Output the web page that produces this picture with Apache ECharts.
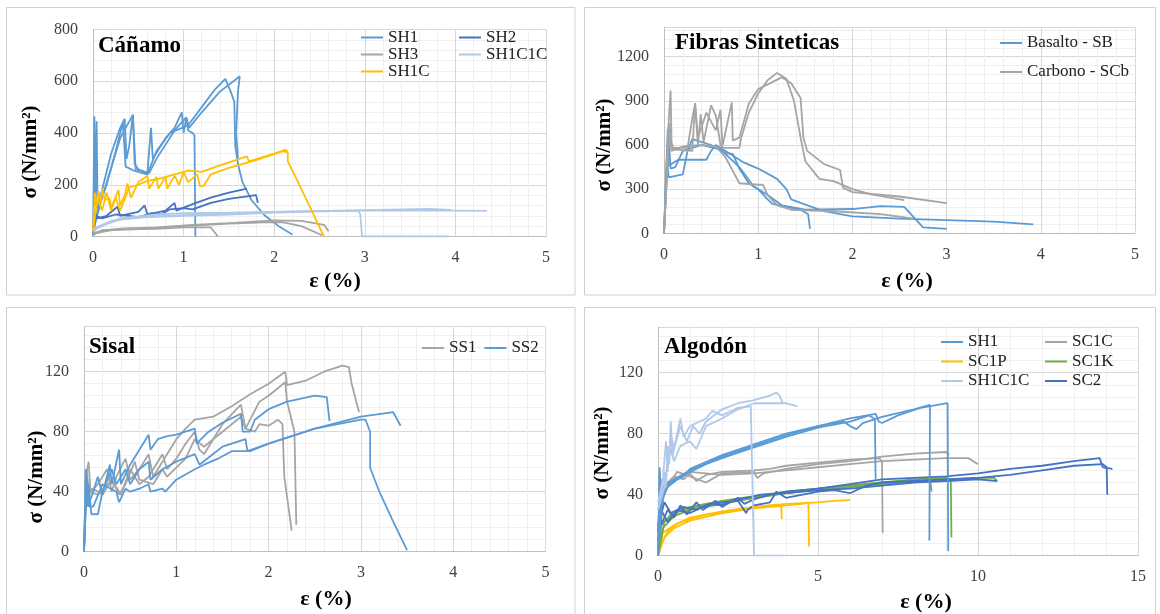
<!DOCTYPE html>
<html>
<head>
<meta charset="utf-8">
<script src="https://cdn.jsdelivr.net/npm/echarts@6/dist/echarts.min.js"></script>
<style>
html,body{margin:0;padding:0;background:#fff;}
#main{width:1160px;height:614px;}
</style>
</head>
<body>
<div id="main"></div>
<script>
// ---- Cáñamo ----
var canSH1a=[[0,0],[0.015,465],[0.025,120],[0.04,445],[0.05,110],[0.1,180],[0.2,320],[0.3,420],[0.35,455],[0.37,300],[0.4,350],[0.44,470],[0.46,280],[0.5,260],[0.6,245],[0.64,420],[0.66,300],[0.8,380],[0.9,420],[0.98,480],[1.0,400],[1.03,460],[1.05,410],[1.1,400],[1.12,390],[1.13,0]];
var canSH1b=[[0,10],[0.05,100],[0.15,200],[0.25,330],[0.33,440],[0.36,270],[0.45,255],[0.6,240],[0.7,330],[0.85,400],[0.95,415],[1.05,430],[1.2,500],[1.35,570],[1.46,609],[1.52,560],[1.56,520],[1.57,350],[1.6,280],[1.65,210],[1.75,140],[1.9,80],[2.05,40],[2.2,8]];
var canSH1c=[[0,20],[0.1,150],[0.3,380],[0.44,470],[0.47,260],[0.62,245],[0.7,300],[0.9,410],[1.03,460],[1.06,420],[1.2,480],[1.4,560],[1.55,600],[1.62,619],[1.6,560],[1.58,400],[1.6,300]];
var canSH2a=[[0,20],[0.02,95],[0.05,70],[0.15,80],[0.27,115],[0.3,80],[0.5,95],[0.57,120],[0.6,85],[0.8,100],[0.9,130],[0.92,100],[1.1,125],[1.3,150],[1.5,170],[1.7,185]];
var canSH2b=[[0,15],[0.03,80],[0.1,70],[0.25,85],[0.4,80],[0.5,75],[0.65,90],[0.75,85],[0.85,105],[1.0,110],[1.1,105],[1.3,130],[1.5,145],[1.7,155],[1.8,160],[1.82,130]];
var canSH3a=[[0,5],[0.1,25],[0.4,30],[0.7,30],[1.0,35],[1.3,35],[1.38,0]];
var canSH3b=[[0,10],[0.2,25],[0.6,30],[1.0,40],[1.5,50],[1.9,55],[2.1,55],[2.3,40],[2.53,5]];
var canSH3c=[[0,15],[0.3,30],[0.7,35],[1.1,45],[1.5,52],[2.0,62],[2.3,60],[2.55,45],[2.6,20]];
var canSH1Ca=[[0,20],[0.02,170],[0.04,120],[0.06,175],[0.09,130],[0.1,185],[0.13,140],[0.18,150],[0.2,110],[0.28,180],[0.3,120],[0.35,160],[0.38,205],[0.42,150],[0.5,210],[0.6,235],[0.62,185],[0.7,230],[0.72,185],[0.8,230],[0.82,185],[0.9,235],[0.95,200],[1.0,250],[1.05,210],[1.15,240],[1.18,195],[1.22,195],[1.3,240],[1.5,265],[1.8,295],[2.1,330],[2.15,325],[2.15,290],[2.25,220],[2.4,110],[2.55,0]];
var canSH1Cb=[[0,20],[0.05,150],[0.1,100],[0.15,170],[0.2,100],[0.25,150],[0.3,100],[0.4,190],[0.5,200],[0.6,215],[0.75,225],[0.9,240],[1.05,255],[1.2,250],[1.4,275],[1.7,310],[1.72,290],[2.0,320],[2.12,335],[2.15,330]];
var canSH1C1Ca=[[0,20],[0.1,45],[0.3,65],[0.6,75],[1.0,80],[1.5,85],[2.0,92],[2.5,97],[2.93,100],[2.95,85],[2.97,0],[3.93,0]];
var canSH1C1Cb=[[0,30],[0.2,60],[0.5,75],[0.8,80],[1.2,85],[2.0,95],[3.0,102],[3.7,107],[3.95,103]];
var canSH1C1Cc=[[0,25],[0.3,70],[0.7,85],[1.0,90],[1.5,92],[2.2,96],[3.0,100],[4.0,100],[4.35,99]];

// ---- Fibras Sinteticas ----
var sinSBa=[[0,0],[0.03,500],[0.05,380],[0.2,400],[0.25,560],[0.3,640],[0.4,620],[0.5,600],[0.65,545],[0.73,540],[0.8,440],[0.9,340],[1.0,300],[1.1,230],[1.15,200],[1.3,180],[1.45,160],[1.53,130],[1.55,30]];
var sinSBb=[[0,0],[0.04,710],[0.05,460],[0.15,500],[0.45,500],[0.5,560],[0.55,600],[0.7,540],[0.85,480],[1.0,440],[1.2,370],[1.3,300],[1.35,230],[1.5,195],[1.7,150],[2.0,115],[2.5,100],[3.0,90],[3.5,80],[3.92,60]];
var sinSBc=[[0,0],[0.05,650],[0.07,440],[0.12,450],[0.2,560],[0.4,600],[0.6,570],[0.8,450],[0.95,320],[1.1,260],[1.25,190],[1.5,160],[2.0,165],[2.3,185],[2.55,180],[2.65,110],[2.75,40],[3.0,30]];
var sinSCba=[[0,0],[0.04,650],[0.07,970],[0.08,620],[0.1,570],[0.3,560],[0.33,885],[0.36,600],[0.39,810],[0.42,620],[0.5,870],[0.55,800],[0.6,600],[0.62,580],[0.8,580],[0.82,650],[0.9,820],[1.0,950],[1.1,1040],[1.2,1090],[1.3,1050],[1.38,900],[1.45,650],[1.5,490],[1.65,370],[1.8,355],[2.0,300],[2.2,265],[2.55,225]];
var sinSCbb=[[0,0],[0.05,640],[0.08,580],[0.25,580],[0.3,780],[0.33,880],[0.36,650],[0.45,820],[0.55,700],[0.6,840],[0.62,590],[0.72,890],[0.73,630],[0.8,650],[0.9,880],[1.0,980],[1.25,1060],[1.35,1020],[1.45,920],[1.48,650],[1.52,560],[1.7,470],[1.87,430],[1.9,310],[2.0,280],[2.5,250],[3.0,205]];
var sinSCbc=[[0,0],[0.06,750],[0.08,560],[0.2,590],[0.4,600],[0.55,590],[0.65,520],[0.75,400],[0.8,340],[1.0,330],[1.05,330],[1.1,260],[1.2,190],[1.35,160],[1.8,150],[2.3,130],[2.65,100]];

// ---- Sisal ----
var sisSS1a=[[0,0],[0.02,50],[0.05,60],[0.07,40],[0.15,45],[0.25,55],[0.3,40],[0.35,50],[0.45,62],[0.5,48],[0.6,55],[0.7,65],[0.75,50],[0.9,65],[1.0,75],[1.1,82],[1.2,88],[1.4,90],[1.6,97],[1.8,105],[2.0,112],[2.18,120],[2.2,111],[2.4,114],[2.6,120],[2.8,124],[2.87,123],[2.9,112],[2.95,100],[2.98,93]];
var sisSS1b=[[0,0],[0.02,40],[0.1,42],[0.2,38],[0.3,48],[0.4,38],[0.5,55],[0.6,45],[0.7,50],[0.85,65],[0.9,55],[1.0,62],[1.1,72],[1.2,80],[1.25,68],[1.3,65],[1.5,85],[1.7,98],[1.75,82],[1.9,100],[2.0,104],[2.18,113],[2.2,100],[2.28,80],[2.3,18]];
var sisSS1c=[[0,0],[0.03,55],[0.05,40],[0.15,38],[0.3,48],[0.38,38],[0.45,45],[0.55,60],[0.6,48],[0.75,45],[0.85,55],[0.9,50],[1.1,62],[1.2,75],[1.3,70],[1.5,80],[1.7,90],[1.75,82],[1.85,80],[1.9,85],[2.0,84],[2.1,88],[2.15,85],[2.17,50],[2.25,14]];
var sisSS2a=[[0,0],[0.02,55],[0.04,30],[0.1,40],[0.15,50],[0.2,38],[0.28,58],[0.3,45],[0.38,68],[0.4,45],[0.5,58],[0.6,68],[0.7,78],[0.72,68],[0.8,75],[0.9,77],[1.0,78],[1.2,82],[1.22,72],[1.35,80],[1.5,86],[1.7,92],[1.72,80],[1.8,80],[1.85,88],[2.0,95],[2.2,100],[2.5,104],[2.63,103],[2.66,87]];
var sisSS2b=[[0,0],[0.02,30],[0.05,45],[0.08,25],[0.15,25],[0.2,40],[0.3,55],[0.35,45],[0.45,55],[0.5,45],[0.6,55],[0.7,60],[0.72,48],[0.85,55],[1.0,60],[1.2,65],[1.25,58],[1.5,70],[1.75,75],[1.77,67],[2.0,72],[2.5,82],[3.0,88],[3.05,88],[3.1,80],[3.1,56],[3.2,40],[3.35,20],[3.5,1]];
var sisSS2c=[[0,0],[0.03,50],[0.06,30],[0.1,30],[0.2,45],[0.35,40],[0.38,33],[0.45,42],[0.5,40],[0.6,42],[0.7,45],[0.72,40],[0.85,42],[0.88,40],[1.0,48],[1.2,55],[1.3,58],[1.45,62],[1.6,67],[1.8,67],[2.0,72],[2.5,82],[3.0,90],[3.35,93],[3.43,84]];

// ---- Algodón ----
var algSH1a=[[0,0],[0.05,58],[0.1,35],[0.3,45],[0.6,50],[1.0,55],[1.5,60],[2,64],[3,71],[4,78],[5,84],[6,88],[6.6,92],[6.75,90],[6.78,88],[6.8,50]];
var algSH1b=[[0,0],[0.1,40],[0.4,48],[0.8,52],[1.0,57],[2,66],[3,73],[4,80],[5,85],[5.8,88],[6.0,85],[6.2,83],[6.4,87],[7,91],[8,96],[8.5,99],[8.48,10]];
var algSH1c=[[0,0],[0.15,45],[0.5,50],[1.0,56],[2,65],[3,72],[4,79],[5,85],[6,90],[6.8,93],[6.9,88],[7.0,87],[7.5,92],[8.2,97],[9.05,100],[9.07,3]];
var algSC1Ca=[[0,0],[0.05,55],[0.1,42],[0.3,48],[0.5,52],[0.8,50],[1,54],[1.2,49],[1.5,53],[2,55],[3,56],[3.5,57],[4,59],[5,61],[6,63],[6.9,64],[7.0,62],[7.02,15]];
var algSC1Cb=[[0,0],[0.1,50],[0.3,45],[0.6,55],[1,52],[1.5,48],[2,54],[3,55],[3.1,51],[3.3,54],[4,57],[5,60],[6,62],[7,65],[8,67],[9,68],[9.1,66]];
var algSC1Cc=[[0,0],[0.2,45],[0.5,50],[1,55],[2,53],[3,54],[4,56],[5,58],[6,60],[7,62],[8,63],[9,64],[9.7,64],[10,60]];
var algSC1Pa=[[0,0],[0.1,8],[0.3,16],[0.6,21],[1,24],[1.5,27],[2,28],[2.5,30],[3,32],[3.5,33],[3.85,33],[3.87,24]];
var algSC1Pb=[[0,0],[0.2,12],[0.5,18],[1,23],[2,28],[3,31],[4,33],[4.5,34],[4.7,35],[4.72,6]];
var algSC1Pc=[[0,0],[0.15,15],[0.5,20],[1,25],[2,29],[3,32],[4,34],[5,35],[5.5,36],[6,36.5]];
var algSC1Ka=[[0,0],[0.1,20],[0.4,27],[0.8,30],[1.5,33],[2,35],[3,38],[4,41],[5,44],[6,46],[7,48],[8,49],[8.5,50],[8.55,42]];
var algSC1Kb=[[0,0],[0.2,22],[0.6,29],[1,32],[2,36],[3,39],[4,42],[5,44],[6,46],[7,48],[8,50],[9,51],[9.15,50],[9.17,12]];
var algSC1Kc=[[0,0],[0.15,18],[0.5,26],[1,30],[2,34],[3,38],[4,41],[5,43],[6,45],[7,47],[8,49],[9,50],[10,51],[10.5,51],[10.6,49]];
var algSH1C1Ca=[[0,30],[0.1,40],[0.2,55],[0.25,45],[0.3,72],[0.35,60],[0.4,88],[0.45,65],[0.6,80],[0.7,90],[0.8,78],[1,85],[1.3,88],[1.5,90],[1.7,95],[2,92],[2.5,97],[2.9,98],[2.95,97],[3.0,0],[3.9,0]];
var algSH1C1Cb=[[0,35],[0.15,50],[0.25,75],[0.3,55],[0.4,80],[0.5,70],[0.7,85],[0.9,75],[1.1,85],[1.3,80],[1.5,88],[2,96],[2.5,100],[3,102],[3.5,105],[3.7,107],[3.8,105],[3.9,100]];
var algSH1C1Cc=[[0,30],[0.2,45],[0.3,60],[0.4,70],[0.5,62],[0.7,72],[1,75],[1.2,70],[1.5,85],[2,90],[2.5,96],[3,100],[3.5,100],[4,100],[4.35,98]];
var algSC2a=[[0,15],[0.05,35],[0.1,20],[0.3,30],[0.5,25],[0.7,33],[0.9,27],[1.2,35],[1.4,30],[1.8,36],[2,32],[2.5,38],[2.7,34],[3,37],[3.5,40],[4,42],[5,44],[6,47],[7,50],[8,51],[9,52],[10,54],[11,57],[12,59],[13,62],[13.8,64],[13.9,58],[14.2,57]];
var algSC2b=[[0,10],[0.1,30],[0.3,22],[0.6,30],[1,28],[1.5,33],[2,35],[2.5,36],[2.75,28],[2.8,30],[3,33],[3.5,35],[3.7,42],[4,38],[5,42],[5.5,43],[6,41],[6.5,46],[7,48],[8,49],[9,50],[10,51],[11,53],[12,56],[13,59],[13.9,60],[14.02,58],[14.04,40]];
var algSC2c=[[0,20],[0.2,35],[0.4,28],[0.8,32],[1.2,30],[1.6,34],[2,33],[2.4,37],[2.8,38],[3.2,40],[4,41],[5,43],[6,44],[7,46],[8,48],[9,49],[10,50],[10.6,49]];

// ejes
var xMax=[5,5,5,15];
var xStep=[1,1,1,5];
var yMax=[800,1400,150,150];
var yStep=[200,300,40,40];
var titles=['Cáñamo','Fibras Sinteticas','Sisal','Algodón'];

var C_BLUE='#5B9BD5', C_DBLUE='#4472C4', C_GRAY='#A5A5A5', C_ORANGE='#FFC000', C_GREEN='#70AD47', C_LBLUE='#B0C8EA';
var serif='Liberation Serif';

var grids=[
  {left:93,top:29.5,width:453,height:207},
  {left:664,top:27.3,width:471,height:206},
  {left:84,top:326.7,width:461.5,height:225},
  {left:658,top:327,width:480,height:228.7}
];

var xAxes=[],yAxes=[];
for(var i=0;i<4;i++){
  (function(i){
    xAxes.push({
      type:'value',gridIndex:i,min:0,max:xMax[i],interval:xStep[i],
      axisLine:{show:true,lineStyle:{color:'#bfbfbf'}},
      axisTick:{show:false},
      minorTick:{show:false,splitNumber:5},
      minorSplitLine:{show:true,lineStyle:{color:'#efefef'}},
      splitLine:{show:true,lineStyle:{color:'#d9d9d9'}},
      axisLabel:{margin:13,fontSize:16,color:'#404040',fontFamily:serif}
    });
    yAxes.push({
      type:'value',gridIndex:i,min:0,max:yMax[i],interval:yStep[i],
      axisLine:{show:true,lineStyle:{color:'#bfbfbf'}},
      axisTick:{show:false},
      minorTick:{show:false,splitNumber:5},
      minorSplitLine:{show:true,lineStyle:{color:'#efefef'}},
      splitLine:{show:true,lineStyle:{color:'#d9d9d9'}},
      axisLabel:{margin:15,fontSize:16,color:'#404040',fontFamily:serif,
        formatter:function(v){return v%yStep[i]===0?String(v):'';}}
    });
  })(i);
}

var series=[];
function addSeries(name,color,curves,idx){
  for(var k=0;k<curves.length;k++){
    series.push({
      name:name,type:'line',xAxisIndex:idx,yAxisIndex:idx,
      data:curves[k],symbol:'none',showSymbol:false,silent:true,
      lineStyle:{color:color,width:1.8},itemStyle:{color:color}
    });
  }
}
addSeries('SH1',C_BLUE,[canSH1a,canSH1b,canSH1c],0);
addSeries('SH2',C_DBLUE,[canSH2a,canSH2b],0);
addSeries('SH3',C_GRAY,[canSH3a,canSH3b,canSH3c],0);
addSeries('SH1C1C',C_LBLUE,[canSH1C1Ca,canSH1C1Cb,canSH1C1Cc],0);
addSeries('SH1C',C_ORANGE,[canSH1Ca,canSH1Cb],0);

addSeries('Basalto - SB',C_BLUE,[sinSBa,sinSBb,sinSBc],1);
addSeries('Carbono - SCb',C_GRAY,[sinSCba,sinSCbb,sinSCbc],1);

addSeries('SS1',C_GRAY,[sisSS1a,sisSS1b,sisSS1c],2);
addSeries('SS2',C_BLUE,[sisSS2a,sisSS2b,sisSS2c],2);

addSeries('SC1C',C_GRAY,[algSC1Ca,algSC1Cb,algSC1Cc],3);
addSeries('SC1P',C_ORANGE,[algSC1Pa,algSC1Pb,algSC1Pc],3);
addSeries('SC1K',C_GREEN,[algSC1Ka,algSC1Kb,algSC1Kc],3);
addSeries('SC2',C_DBLUE,[algSC2a,algSC2b,algSC2c],3);
addSeries('SH1',C_BLUE,[algSH1a,algSH1b,algSH1c],3);
addSeries('SH1C1C',C_LBLUE,[algSH1C1Ca,algSH1C1Cb,algSH1C1Cc],3);

var legTxt={fontSize:17,color:'#222',fontFamily:serif,lineHeight:17};
function leg(data,left,top,orient,gap){
  return {data:data,left:left,top:top,orient:orient,itemGap:gap,itemWidth:22,itemHeight:2,
    icon:'rect',padding:0,selectedMode:false,textStyle:legTxt};
}
var legends=[
  leg(['SH1','SH3','SH1C'],361,29,'vertical',0),
  leg(['SH2','SH1C1C'],459,29,'vertical',0),
  leg(['Basalto - SB','Carbono - SCb'],1000,34.5,'vertical',12),
  leg(['SS1','SS2'],422,339.5,'horizontal',8),
  leg(['SH1','SC1P','SH1C1C'],941,333.5,'vertical',2.5),
  leg(['SC1C','SC1K','SC2'],1045,333.5,'vertical',2.5)
];

function txt(s,x,y,size,rot,align){
  return {type:'text',x:x,y:y,rotation:rot||0,silent:true,z:10,
    style:{text:s,fontSize:size,fontWeight:'bold',fontFamily:serif,fill:'#000',
      textAlign:align||'center',textVerticalAlign:'middle'}};
}
function box(x,y,w,h){
  return {type:'rect',shape:{x:x,y:y,width:w,height:h},silent:true,z:-1,
    style:{fill:null,stroke:'#d0d0d0',lineWidth:1}};
}
var graphics=[
  box(6.5,7.5,568.5,287.5),box(584.5,7.5,571,287.5),
  box(6.5,307.5,568.5,320),box(584.5,307.5,571,320),
  txt(titles[0],98,46,23,0,'left'),
  txt(titles[1],675,43,23,0,'left'),
  txt(titles[2],89,347,23,0,'left'),
  txt(titles[3],664,347,23,0,'left'),
  txt('σ (N/mm²)',31,152,21,Math.PI/2),
  txt('σ (N/mm²)',605,145,21,Math.PI/2),
  txt('σ (N/mm²)',37,477,21,Math.PI/2),
  txt('σ (N/mm²)',603,453,21,Math.PI/2),
  txt('ε (%)',335,281,22),
  txt('ε (%)',907,281,22),
  txt('ε (%)',326,599,22),
  txt('ε (%)',926,602,22)
];

var myChart=echarts.init(document.getElementById('main'));
myChart.setOption({
  animation:false,
  backgroundColor:'#fff',
  textStyle:{fontFamily:serif},
  grid:grids,
  xAxis:xAxes,
  yAxis:yAxes,
  legend:legends,
  graphic:graphics,
  series:series
});
</script>
</body>
</html>
